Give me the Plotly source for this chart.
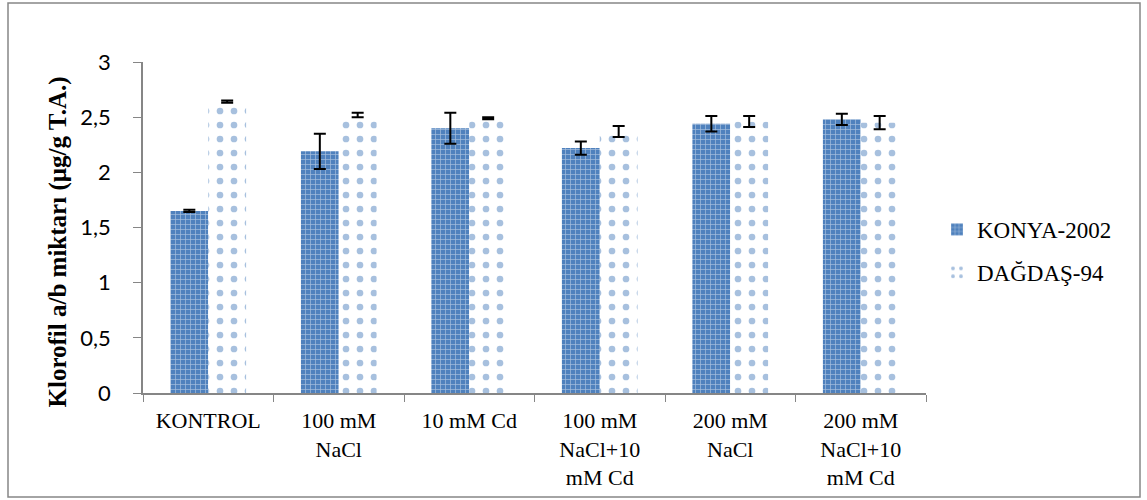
import plotly.graph_objects as go

categories = ["KONTROL", "100 mM<br>NaCl", "10 mM Cd", "100 mM<br>NaCl+10<br>mM Cd", "200 mM<br>NaCl", "200 mM<br>NaCl+10<br>mM Cd"]
konya = [1.65, 2.19, 2.40, 2.22, 2.44, 2.48]
konya_err = [0.01, 0.16, 0.14, 0.06, 0.07, 0.05]
dagdas = [2.64, 2.52, 2.49, 2.37, 2.46, 2.45]
dagdas_err = [0.01, 0.02, 0.01, 0.05, 0.05, 0.06]
yticks = [0, 0.5, 1, 1.5, 2, 2.5, 3]

BLUE = "#4f81bd"
fig = go.Figure()
fig.add_trace(go.Bar(
    x=categories, y=konya, name="KONYA-2002", legendgroup="a",
    marker=dict(color=BLUE, line=dict(width=0),
                pattern=dict(shape="+", fgcolor="white", bgcolor=BLUE, size=5, solidity=0.25)),
    error_y=dict(type="data", array=konya_err, color="black", thickness=2, width=6),
))
fig.add_trace(go.Bar(
    x=categories, y=dagdas, name="DAĞDAŞ-94", legendgroup="b",
    marker=dict(color="white", line=dict(width=0),
                pattern=dict(shape=".", fgcolor=BLUE, bgcolor="white", size=14, solidity=0.18)),
    error_y=dict(type="data", array=dagdas_err, color="black", thickness=2, width=6),
))

fig.update_layout(
    width=1147, height=500,
    margin=dict(l=143, r=221, t=62, b=107),
    paper_bgcolor="white", plot_bgcolor="white",
    barmode="group", bargap=0.42, bargroupgap=0,
    separators=",.",
    showlegend=True,
    legend=dict(x=1 + (937 - 926) / 783, y=(393 - 251) / 331, xanchor="left", yanchor="middle",
                font=dict(family="Liberation Serif", size=23, color="black"),
                itemsizing="constant", tracegroupgap=10),
    xaxis=dict(showline=True, linecolor="#868686", linewidth=1.5, automargin=False,
               ticks="outside", ticklen=7, tickcolor="#868686", tickson="boundaries",
               ticklabelstandoff=7,
               tickfont=dict(family="Liberation Serif", size=22, color="black"),
               showgrid=False),
    yaxis=dict(range=[0, 3], tickvals=yticks, showline=True, linecolor="#868686", linewidth=1.5,
               automargin=False,
               ticks="outside", ticklen=8, tickcolor="#868686", showgrid=False, zeroline=False,
               ticklabelstandoff=18,
               tickfont=dict(family="Lato", size=22, color="black")),
    annotations=[dict(text="<b>Klorofil a/b miktarı (µg/g T.A.)</b>", textangle=-90,
                      xref="paper", yref="paper", x=(58 - 143) / 783, y=(393 - 242.5) / 331,
                      xanchor="center", yanchor="middle", showarrow=False,
                      font=dict(family="Liberation Serif", size=25, color="black"))],
    shapes=[dict(type="rect", xref="paper", yref="paper",
                 x0=(8 - 143) / 783, x1=(1140 - 143) / 783,
                 y0=(393 - 497) / 331, y1=(393 - 3) / 331,
                 line=dict(color="#868686", width=1.5), layer="below")],
)
fig.write_html("out.html")
